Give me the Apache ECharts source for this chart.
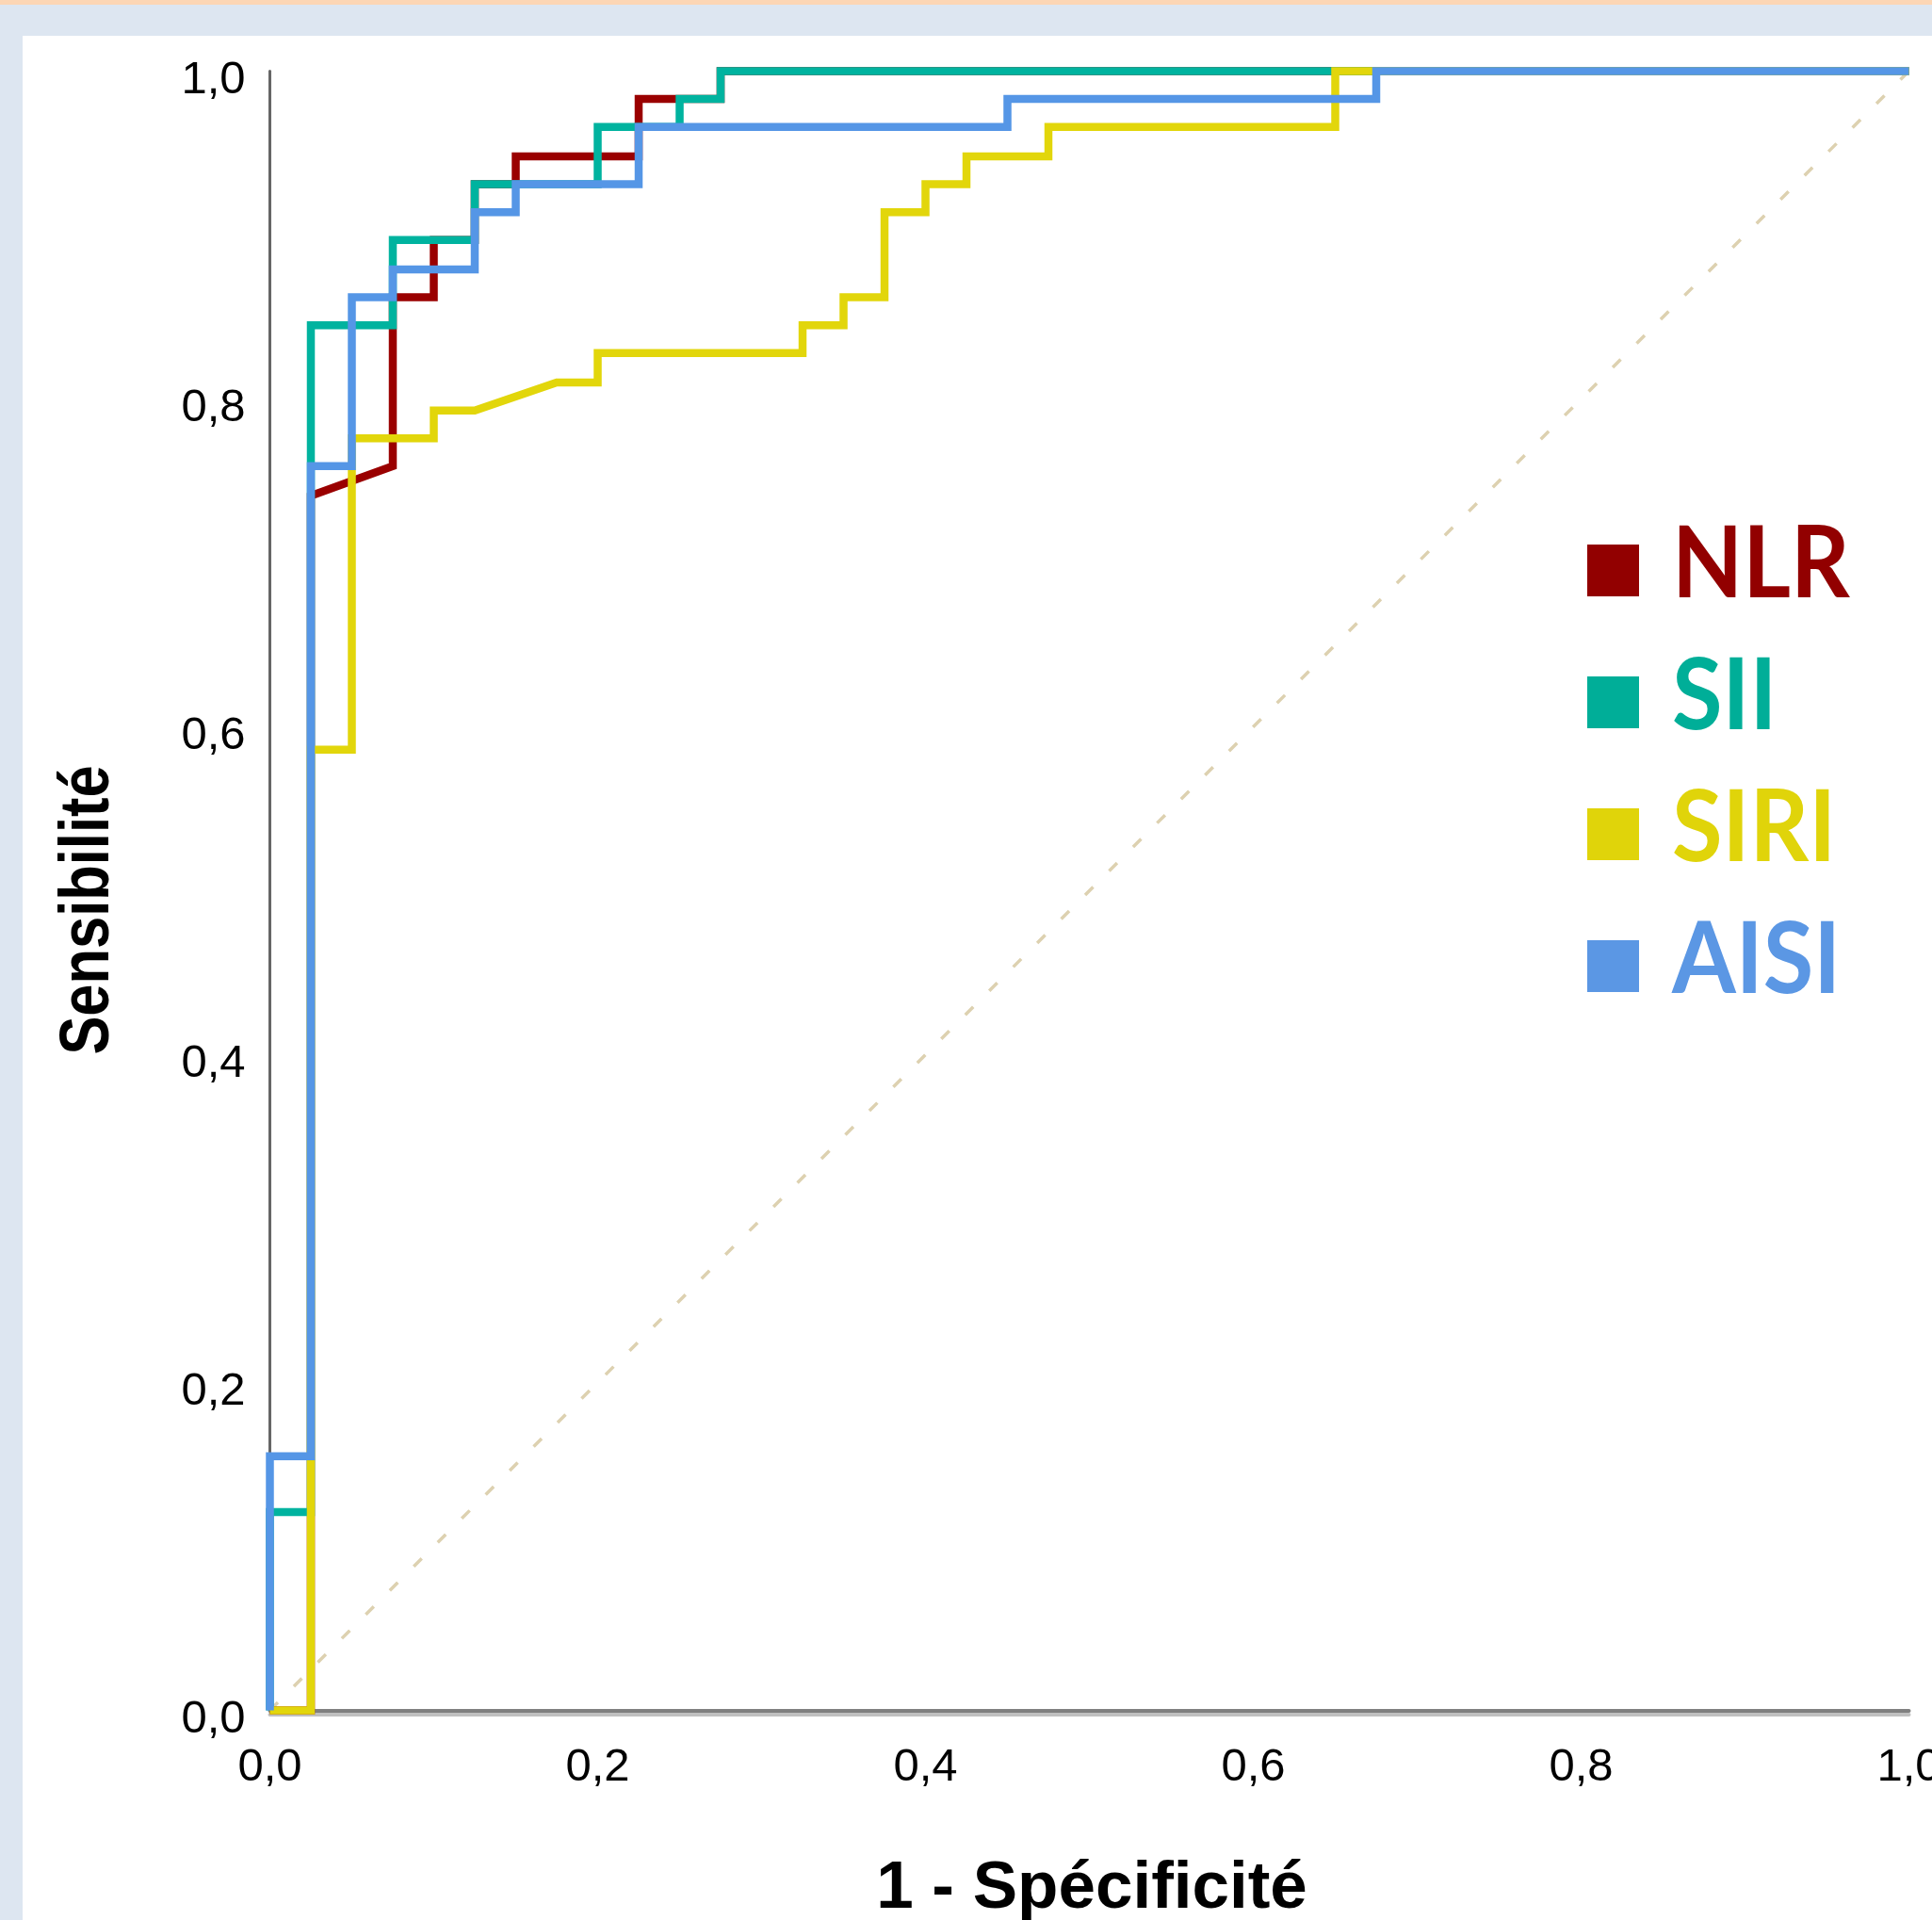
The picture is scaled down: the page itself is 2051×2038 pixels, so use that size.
<!DOCTYPE html>
<html>
<head>
<meta charset="utf-8">
<script src="https://cdn.jsdelivr.net/npm/echarts@6/dist/echarts.min.js"></script>
<style>
    html, body { margin: 0; padding: 0; width: 2051px; height: 2038px; overflow: hidden; background: #dde6f1; }
    #strip { position: absolute; left: 0; top: 0; width: 2051px; height: 5px; background: #fcd6b5; }
    #panel { position: absolute; left: 24px; top: 38px; right: 0; bottom: 0; background: #fff; }
    #chart { position: absolute; left: 0; top: 0; width: 2051px; height: 2038px; }
</style>
</head>
<body>
<div id="strip"></div>
<div id="panel"></div>
<div id="chart"></div>
<script>
// tick labels (french decimal comma)
var tickLabels = ['0,0', '0,2', '0,4', '0,6', '0,8', '1,0'];

// ROC curves : 1 - specificite (x) / sensibilite (y)
var nlrX = [0, 0.025, 0.025, 0.075, 0.075, 0.1, 0.1, 0.125, 0.125, 0.15, 0.15, 0.225, 0.225, 0.275, 0.275, 1];
var nlrY = [0, 0, 0.741, 0.759, 0.862, 0.862, 0.897, 0.897, 0.931, 0.931, 0.948, 0.948, 0.983, 0.983, 1, 1];

var siiX = [0, 0, 0.025, 0.025, 0.075, 0.075, 0.125, 0.125, 0.2, 0.2, 0.25, 0.25, 0.275, 0.275, 1];
var siiY = [0, 0.121, 0.121, 0.845, 0.845, 0.897, 0.897, 0.931, 0.931, 0.966, 0.966, 0.983, 0.983, 1, 1];

var siriX = [0, 0.025, 0.025, 0.05, 0.05, 0.1, 0.1, 0.125, 0.175, 0.2, 0.2, 0.325, 0.325, 0.35, 0.35,
    0.375, 0.375, 0.4, 0.4, 0.425, 0.425, 0.475, 0.475, 0.65, 0.65, 1];
var siriY = [0, 0, 0.586, 0.586, 0.776, 0.776, 0.793, 0.793, 0.810, 0.810, 0.828, 0.828, 0.845, 0.845, 0.862,
    0.862, 0.914, 0.914, 0.931, 0.931, 0.948, 0.948, 0.966, 0.966, 1, 1];

var aisiX = [0, 0, 0.025, 0.025, 0.05, 0.05, 0.075, 0.075, 0.125, 0.125, 0.15, 0.15, 0.225, 0.225, 0.45, 0.45, 0.675, 0.675, 1];
var aisiY = [0, 0.155, 0.155, 0.759, 0.759, 0.862, 0.862, 0.879, 0.879, 0.914, 0.914, 0.931, 0.931, 0.966, 0.966, 0.983, 0.983, 1, 1];

var refX = [0, 1];
var refY = [0, 1];

var names = ['NLR', 'SII', 'SIRI', 'AISI'];
var lineColors = ['#9a0000', '#00b39f', '#e2d60b', '#5596e6'];
var legendColors = ['#920000', '#00ae98', '#e0d40a', '#5b97e4'];

function pairs(xs, ys) {
    return xs.map(function (x, i) { return [x, ys[i]]; });
}

var curves = [[nlrX, nlrY], [siiX, siiY], [siriX, siriY], [aisiX, aisiY]];

var chart = echarts.init(document.getElementById('chart'), null, { renderer: 'canvas' });

var labelFont = '"Liberation Sans", Arial, sans-serif';
var tickFmt = function (v) { return tickLabels[Math.round(v * 5)]; };

var series = [{
    type: 'line',
    data: pairs(refX, refY),
    symbol: 'none',
    silent: true,
    lineStyle: { color: '#ddd1b0', width: 3.5, type: [12, 24] }
}];
curves.forEach(function (c, i) {
    series.push({
        name: names[i],
        type: 'line',
        data: pairs(c[0], c[1]),
        symbol: 'none',
        clip: false,
        lineStyle: { color: lineColors[i], width: 8.5, join: 'miter', cap: 'butt' }
    });
});

var graphics = [];
// axis titles
graphics.push({
    type: 'text',
    x: 95, y: 966,
    rotation: Math.PI / 2,
    scaleX: 0.83,
    style: {
        text: 'Sensibilité', font: 'bold 74px ' + labelFont, fill: '#000',
        align: 'center', verticalAlign: 'middle'
    }
});
graphics.push({
    type: 'text',
    x: 1159, y: 2005,
    style: {
        text: '1 - Spécificité', font: 'bold 71px ' + labelFont, fill: '#000',
        align: 'center', verticalAlign: 'middle'
    }
});
// legend on the right
names.forEach(function (n, i) {
    var top = 578 + i * 140;
    graphics.push({
        type: 'rect',
        shape: { x: 1685, y: top, width: 55, height: 55 },
        style: { fill: legendColors[i] }
    });
    graphics.push({
        type: 'text',
        x: 1775, y: top + 22,
        scaleX: 0.93,
        style: {
            text: n, font: 'bold 105px Lato, "Open Sans", sans-serif', fill: legendColors[i],
            align: 'left', verticalAlign: 'middle'
        }
    });
});

chart.setOption({
    backgroundColor: 'transparent',
    animation: false,
    grid: { left: 286.5, top: 75.5, width: 1740, height: 1740, outerBoundsMode: 'none', containLabel: false },
    xAxis: {
        type: 'value', min: 0, max: 1, interval: 0.2,
        axisLine: { show: true, onZero: false, lineStyle: { color: '#808080', width: 4, shadowColor: '#c0c0c0', shadowOffsetY: 4, shadowBlur: 0 } },
        axisTick: { show: false },
        splitLine: { show: false },
        axisLabel: { color: '#000', fontSize: 49, fontFamily: labelFont, margin: 36, formatter: tickFmt, showMaxLabel: true }
    },
    yAxis: {
        type: 'value', min: 0, max: 1, interval: 0.2,
        axisLine: { show: true, onZero: false, lineStyle: { color: '#666', width: 3 } },
        axisTick: { show: false },
        splitLine: { show: false },
        axisLabel: { color: '#000', fontSize: 49, fontFamily: labelFont, margin: 26, verticalAlign: 'top', lineHeight: 20, formatter: tickFmt }
    },
    graphic: graphics,
    series: series
});
</script>
</body>
</html>
